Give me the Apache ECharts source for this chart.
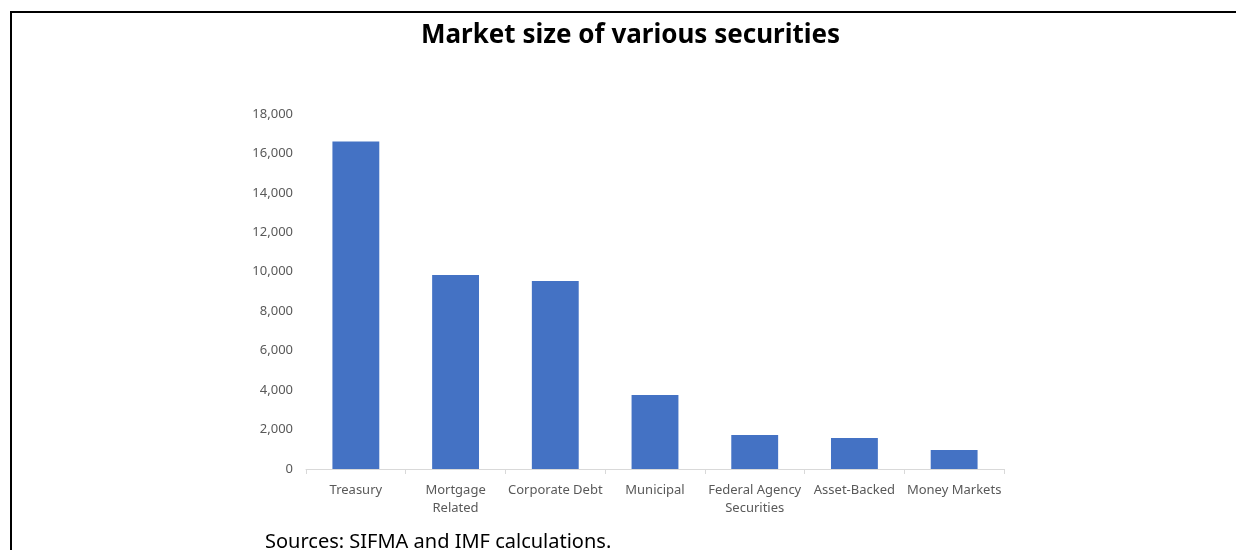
<!DOCTYPE html>
<html>
<head>
<meta charset="utf-8">
<script src="https://cdn.jsdelivr.net/npm/echarts@6/dist/echarts.min.js"></script>
<style>
html,body{margin:0;padding:0;background:#fff;}
#chart{width:1236px;height:550px;}
</style>
</head>
<body>
<div id="chart"></div>
<script>
const categories = ['Treasury', 'Mortgage Related', 'Corporate Debt', 'Municipal', 'Federal Agency Securities', 'Asset-Backed', 'Money Markets'];
const categoryLabels = ['Treasury', 'Mortgage\nRelated', 'Corporate Debt', 'Municipal', 'Federal Agency\nSecurities', 'Asset-Backed', 'Money Markets'];
const marketSize = [16600, 9840, 9530, 3750, 1720, 1570, 960];
const yTicks = [0, 2000, 4000, 6000, 8000, 10000, 12000, 14000, 16000, 18000];
const titleText = 'Market size of various securities';
const sourceText = 'Sources: SIFMA and IMF calculations.';

const chart = echarts.init(document.getElementById('chart'), null, {renderer: 'canvas'});
const font = "'Noto Sans', 'Open Sans', sans-serif";
chart.setOption({
  animation: false,
  backgroundColor: '#ffffff',
  title: {
    text: titleText,
    left: 416,
    top: 18,
    textStyle: {fontFamily: font, fontSize: 26, fontWeight: 'bold', color: '#000000'}
  },
  grid: {left: 306, right: 232, top: 114, bottom: 81, containLabel: false},
  xAxis: {
    type: 'category',
    data: categories,
    axisLine: {lineStyle: {color: '#d9d9d9', width: 1}},
    axisTick: {show: true, length: 5, lineStyle: {color: '#d9d9d9'}},
    axisLabel: {
      margin: 12,
      interval: 0,
      fontFamily: font,
      fontSize: 13,
      color: '#595959',
      lineHeight: 18,
      formatter: function (v, i) { return categoryLabels[i]; }
    }
  },
  yAxis: {
    type: 'value',
    min: yTicks[0],
    max: yTicks[yTicks.length - 1],
    interval: yTicks[1] - yTicks[0],
    axisLine: {show: false},
    axisTick: {show: false},
    splitLine: {show: false},
    axisLabel: {
      margin: 13,
      fontFamily: font,
      fontSize: 13,
      color: '#595959',
      formatter: function (v) { return v.toLocaleString('en-US'); }
    }
  },
  series: [{
    type: 'bar',
    data: marketSize,
    barWidth: '47%',
    itemStyle: {color: '#4472C4'}
  }],
  graphic: [
    {type: 'line', shape: {x1: 10, y1: 12, x2: 1236, y2: 12}, style: {stroke: '#000', lineWidth: 2}},
    {type: 'line', shape: {x1: 11, y1: 11, x2: 11, y2: 550}, style: {stroke: '#000', lineWidth: 2}},
    {type: 'text', left: 265, top: 532, style: {text: sourceText, fontFamily: font, fontSize: 20, fill: '#000'}}
  ]
});
</script>
</body>
</html>
